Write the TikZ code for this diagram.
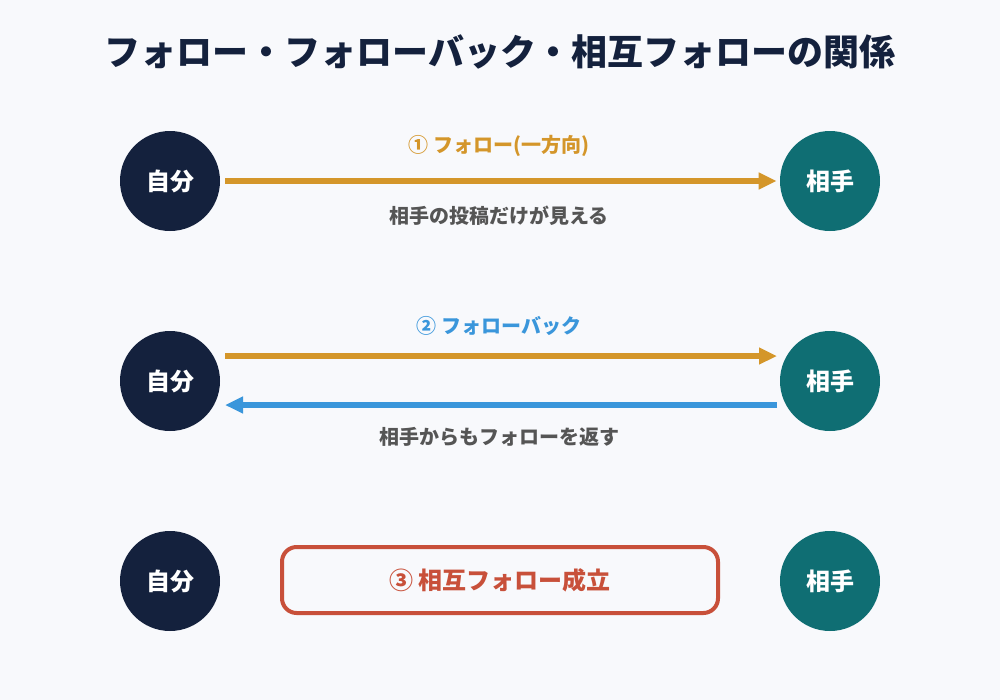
\documentclass[tikz,border=0pt]{standalone}
\usepackage{fontspec}
\setmainfont{Noto Sans CJK JP}
\usetikzlibrary{arrows.meta}
\definecolor{bgc}{HTML}{F8F9FC}
\definecolor{navy}{HTML}{14213D}
\definecolor{tealc}{HTML}{0F6E73}
\definecolor{orangec}{HTML}{D4962A}
\definecolor{bluec}{HTML}{3A96DB}
\definecolor{redc}{HTML}{C8503A}
\definecolor{greyc}{HTML}{555555}
\tikzset{
  me/.style={circle,fill=navy,minimum size=75pt,inner sep=0pt,text=white,font=\fontsize{18}{20}\selectfont\bfseries},
  them/.style={circle,fill=tealc,minimum size=75pt,inner sep=0pt,text=white,font=\fontsize{18}{20}\selectfont\bfseries},
  arr/.style={line width=4.5pt,-{Triangle[length=13.5pt,width=12pt]},shorten <=3.75pt,shorten >=2.25pt},
  lbl/.style={font=\fontsize{15}{17}\selectfont\bfseries},
  sub/.style={font=\fontsize{15}{17}\selectfont\bfseries,text=greyc},
}
\begin{document}
\begin{tikzpicture}[x=0.75pt,y=-0.75pt]
\fill[bgc] (0,0) rectangle (1000,700);
\useasboundingbox (0,0) rectangle (1000,700);
\node[text=navy,font=\fontsize{27}{30}\selectfont\bfseries] (title) at (500,52) {フォロー・フォローバック・相互フォローの関係};
% row 1
\node[me] (a1) at (170,181) {自分};
\node[them] (b1) at (830,181) {相手};
\draw[arr,orangec] (a1.east) -- (b1.west);
\node[lbl,text=orangec] (l1) at (499,146) {① フォロー(一方向)};
\node[sub] (s1) at (499,216) {相手の投稿だけが見える};
% row 2
\node[me] (a2) at (170,381) {自分};
\node[them] (b2) at (830,381) {相手};
\coordinate (a2t) at (220,356);
\coordinate (b2t) at (780,356);
\coordinate (a2b) at (220,405);
\coordinate (b2b) at (780,405);
\draw[arr,orangec] (a2t) -- (b2t);
\draw[arr,bluec,shorten <=2.25pt,shorten >=3.75pt] (b2b) -- (a2b);
\node[lbl,text=bluec] (l2) at (499,326) {② フォローバック};
\node[sub] (s2) at (499,437) {相手からもフォローを返す};
% row 3
\node[me] (a3) at (170,581) {自分};
\node[them] (b3) at (830,581) {相手};
\node[draw=redc,line width=3pt,rounded corners=11pt,minimum width=327pt,minimum height=49.5pt,text=redc,font=\fontsize{18}{20}\selectfont\bfseries] (mut) at (500,580) {③ 相互フォロー成立};
\end{tikzpicture}
\end{document}
